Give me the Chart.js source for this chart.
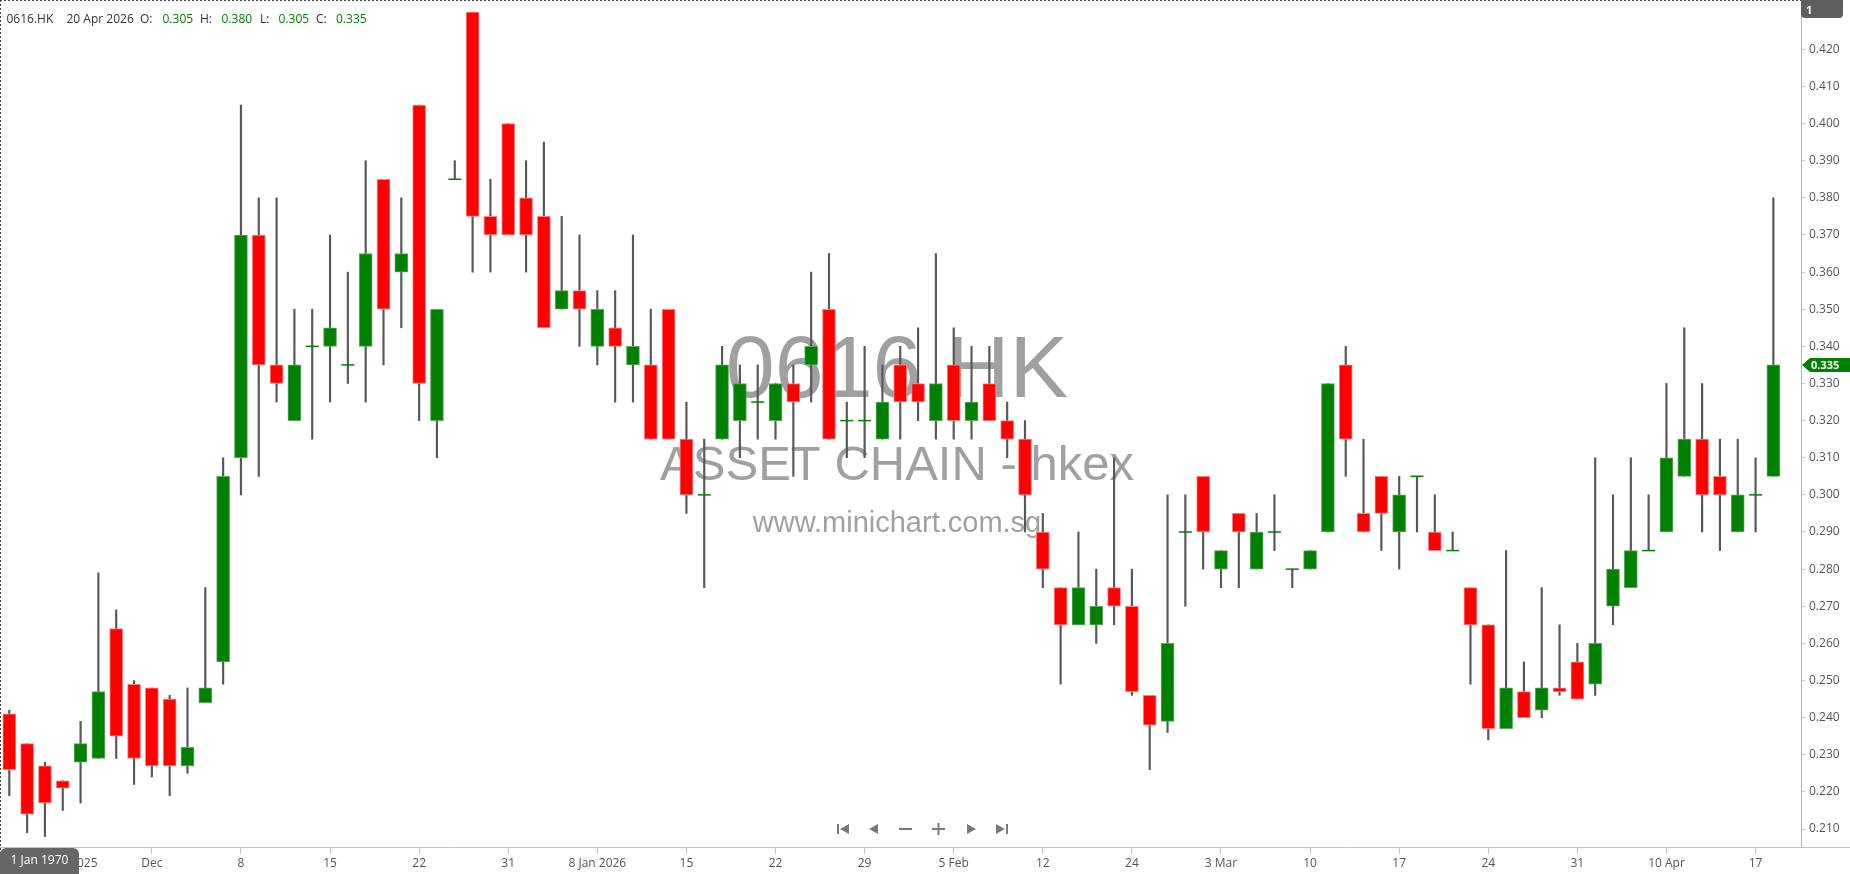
<!DOCTYPE html>
<html>
<head>
<meta charset="utf-8">
<script src="https://cdn.jsdelivr.net/npm/chart.js@4.4.1/dist/chart.umd.min.js"></script>
<style>
html,body{margin:0;padding:0;background:#fff;overflow:hidden}
#wrap{position:relative;width:1850px;height:874px}
</style>
</head>
<body>
<div id="wrap"><canvas id="c" width="1850" height="874"></canvas></div>
<script>
// ---------------- DATA ----------------
const symbol = '0616.HK';
const lastDateText = '20 Apr 2026';
const wmTitle = '0616.HK';
const wmSub = 'ASSET CHAIN - hkex';
const wmUrl = 'www.minichart.com.sg';

const dates = [
'2025-11-19','2025-11-20','2025-11-21','2025-11-24','2025-11-25','2025-11-26','2025-11-27','2025-11-28',
'2025-12-01','2025-12-02','2025-12-03','2025-12-04','2025-12-05',
'2025-12-08','2025-12-09','2025-12-10','2025-12-11','2025-12-12',
'2025-12-15','2025-12-16','2025-12-17','2025-12-18','2025-12-19',
'2025-12-22','2025-12-23','2025-12-24','2025-12-29','2025-12-30',
'2025-12-31','2026-01-02','2026-01-05','2026-01-06','2026-01-07',
'2026-01-08','2026-01-09','2026-01-12','2026-01-13','2026-01-14',
'2026-01-15','2026-01-16','2026-01-19','2026-01-20','2026-01-21',
'2026-01-22','2026-01-23','2026-01-26','2026-01-27','2026-01-28',
'2026-01-29','2026-01-30','2026-02-02','2026-02-03','2026-02-04',
'2026-02-05','2026-02-06','2026-02-09','2026-02-10','2026-02-11',
'2026-02-12','2026-02-13','2026-02-16','2026-02-20','2026-02-23',
'2026-02-24','2026-02-25','2026-02-26','2026-02-27','2026-03-02',
'2026-03-03','2026-03-04','2026-03-05','2026-03-06','2026-03-09',
'2026-03-10','2026-03-11','2026-03-12','2026-03-13','2026-03-16',
'2026-03-17','2026-03-18','2026-03-19','2026-03-20','2026-03-23',
'2026-03-24','2026-03-25','2026-03-26','2026-03-27','2026-03-30',
'2026-03-31','2026-04-01','2026-04-02','2026-04-08','2026-04-09',
'2026-04-10','2026-04-13','2026-04-14','2026-04-15','2026-04-16',
'2026-04-17','2026-04-20'
];

const openP = [
0.241,0.233,0.227,0.223,0.228,0.229,0.264,0.249,0.248,0.245,
0.227,0.244,0.255,0.310,0.370,0.335,0.320,0.340,0.340,0.335,
0.340,0.385,0.360,0.405,0.320,0.385,0.430,0.375,0.400,0.380,
0.375,0.350,0.355,0.340,0.345,0.335,0.335,0.350,0.315,0.300,
0.315,0.320,0.325,0.320,0.330,0.335,0.350,0.320,0.320,0.315,
0.335,0.330,0.320,0.335,0.320,0.330,0.320,0.315,0.290,0.275,
0.265,0.265,0.275,0.270,0.246,0.239,0.290,0.305,0.280,0.295,
0.280,0.290,0.280,0.280,0.290,0.335,0.295,0.305,0.290,0.305,
0.290,0.285,0.275,0.265,0.237,0.247,0.242,0.248,0.255,0.249,
0.270,0.275,0.285,0.290,0.305,0.315,0.305,0.290,0.300,0.305
];
const highP = [
0.242,0.233,0.228,0.223,0.239,0.279,0.269,0.250,0.248,0.246,
0.248,0.275,0.310,0.405,0.380,0.380,0.350,0.350,0.370,0.360,
0.390,0.385,0.380,0.405,0.350,0.390,0.430,0.385,0.400,0.390,
0.395,0.375,0.370,0.355,0.355,0.370,0.350,0.350,0.325,0.315,
0.340,0.335,0.335,0.330,0.335,0.360,0.365,0.325,0.340,0.335,
0.340,0.345,0.365,0.345,0.340,0.340,0.325,0.320,0.295,0.275,
0.290,0.280,0.310,0.280,0.246,0.300,0.300,0.305,0.285,0.295,
0.295,0.300,0.280,0.285,0.330,0.340,0.315,0.305,0.305,0.305,
0.300,0.290,0.275,0.265,0.285,0.255,0.275,0.265,0.260,0.310,
0.300,0.310,0.300,0.330,0.345,0.330,0.315,0.315,0.310,0.380
];
const lowP = [
0.219,0.209,0.208,0.215,0.217,0.229,0.229,0.222,0.224,0.219,
0.225,0.244,0.249,0.300,0.305,0.325,0.320,0.315,0.325,0.330,
0.325,0.335,0.345,0.320,0.310,0.385,0.360,0.360,0.370,0.360,
0.345,0.350,0.340,0.335,0.325,0.325,0.315,0.315,0.295,0.275,
0.315,0.310,0.315,0.315,0.305,0.325,0.315,0.310,0.310,0.315,
0.315,0.320,0.315,0.315,0.315,0.320,0.310,0.290,0.275,0.249,
0.265,0.260,0.265,0.246,0.226,0.236,0.270,0.280,0.275,0.275,
0.280,0.285,0.275,0.280,0.290,0.305,0.290,0.285,0.280,0.290,
0.285,0.285,0.249,0.234,0.237,0.240,0.240,0.246,0.245,0.246,
0.265,0.275,0.285,0.290,0.305,0.290,0.285,0.290,0.290,0.305
];
const closeP = [
0.226,0.214,0.217,0.221,0.233,0.247,0.235,0.229,0.227,0.227,
0.232,0.248,0.305,0.370,0.335,0.330,0.335,0.340,0.345,0.335,
0.365,0.350,0.365,0.330,0.350,0.385,0.375,0.370,0.370,0.370,
0.345,0.355,0.350,0.350,0.340,0.340,0.315,0.315,0.300,0.300,
0.335,0.330,0.325,0.330,0.325,0.340,0.315,0.320,0.320,0.325,
0.325,0.325,0.330,0.320,0.325,0.320,0.315,0.300,0.280,0.265,
0.275,0.270,0.270,0.247,0.238,0.260,0.290,0.290,0.285,0.290,
0.290,0.290,0.280,0.285,0.330,0.315,0.290,0.295,0.300,0.305,
0.285,0.285,0.265,0.237,0.248,0.240,0.248,0.247,0.245,0.260,
0.280,0.285,0.285,0.310,0.315,0.300,0.300,0.300,0.300,0.335
];

const tickDates = ['2025-11-24','2025-12-01','2025-12-08','2025-12-15','2025-12-22','2025-12-31',
'2026-01-08','2026-01-15','2026-01-22','2026-01-29','2026-02-05','2026-02-12','2026-02-24',
'2026-03-03','2026-03-10','2026-03-17','2026-03-24','2026-03-31','2026-04-10','2026-04-17'];
const tickLabels = ['24 Nov 2025','Dec','8','15','22','31','8 Jan 2026','15','22','29','5 Feb','12','24',
'3 Mar','10','17','24','31','10 Apr','17'];
const yTickValues = [0.21,0.22,0.23,0.24,0.25,0.26,0.27,0.28,0.29,0.30,0.31,0.32,0.33,0.34,0.35,0.36,0.37,0.38,0.39,0.40,0.41,0.42];

// ---------------- STYLE ----------------
const GREEN = '#008000', RED = '#ff0000';
const FONT = '"Open Sans", "DejaVu Sans", sans-serif';
const N = dates.length;
const allIdx = dates.map((d, i) => i);
const bodyIdx = allIdx.filter(i => openP[i] !== closeP[i]);
const dojiIdx = allIdx.filter(i => openP[i] === closeP[i]);
const up = i => closeP[i] >= openP[i];
const tickIdx = tickDates.map(d => dates.indexOf(d));

const decor = {
  id: 'decor',
  beforeDatasetsDraw(chart) {
    const ctx = chart.ctx;
    ctx.save();
    ctx.fillStyle = 'rgba(150,150,150,0.9)';
    ctx.textAlign = 'center';
    ctx.textBaseline = 'alphabetic';
    ctx.font = '88px "Liberation Sans", Arial, sans-serif';
    ctx.fillText(wmTitle, 897, 397);
    ctx.font = '49px "Liberation Sans", Arial, sans-serif';
    ctx.fillText(wmSub, 897, 480);
    ctx.font = '29px "Liberation Sans", Arial, sans-serif';
    ctx.fillText(wmUrl, 897, 532);
    ctx.restore();
  },
  afterDraw(chart) {
    const ctx = chart.ctx;
    const ca = chart.chartArea;
    const ys = chart.scales.y;
    ctx.save();
    // dotted frame (top / left)
    ctx.strokeStyle = '#444';
    ctx.lineWidth = 1;
    ctx.setLineDash([2, 2]);
    ctx.beginPath();
    ctx.moveTo(0, 0.5); ctx.lineTo(ca.right, 0.5);
    ctx.moveTo(0.5, 0); ctx.lineTo(0.5, 874);
    ctx.stroke();
    ctx.setLineDash([]);
    // extend bottom axis line under the price scale
    ctx.strokeStyle = '#c4c4c4';
    ctx.beginPath();
    ctx.moveTo(ca.right, ca.bottom + 0.5); ctx.lineTo(1850, ca.bottom + 0.5);
    ctx.stroke();

    // header
    const fmt = v => v.toFixed(3);
    const last = N - 1;
    const hdr = [
      [symbol, 6.5, '#333'], [lastDateText, 66.5, '#333'],
      ['O:', 140, '#333'], [fmt(openP[last]), 162.5, GREEN],
      ['H:', 200, '#333'], [fmt(highP[last]), 221.5, GREEN],
      ['L:', 260, '#333'], [fmt(lowP[last]), 278.5, GREEN],
      ['C:', 316, '#333'], [fmt(closeP[last]), 336, GREEN]
    ];
    ctx.font = '12px ' + FONT;
    ctx.textAlign = 'left';
    ctx.textBaseline = 'alphabetic';
    hdr.forEach(([t, x, c]) => { ctx.fillStyle = c; ctx.fillText(t, x, 22.5); });

    // "1" badge top right
    ctx.fillStyle = '#5e5e5e';
    ctx.beginPath();
    ctx.roundRect(ca.right, 0, 42, 18, [0, 0, 4, 4]);
    ctx.fill();
    ctx.fillStyle = '#fff';
    ctx.font = 'bold 11px ' + FONT;
    ctx.fillText('1', 1806, 13.5);

    // last price marker
    const py = ys.getPixelForValue(closeP[last]);
    ctx.fillStyle = up(last) ? GREEN : RED;
    ctx.beginPath();
    ctx.moveTo(ca.right + 1, py);
    ctx.lineTo(ca.right + 9, py - 7);
    ctx.lineTo(1850, py - 7);
    ctx.lineTo(1850, py + 7);
    ctx.lineTo(ca.right + 9, py + 7);
    ctx.closePath();
    ctx.fill();
    ctx.fillStyle = '#fff';
    ctx.font = 'bold 11px ' + FONT;
    ctx.textBaseline = 'middle';
    ctx.fillText(fmt(closeP[last]), ca.right + 10, py + 0.5);

    // "1 Jan 1970" badge bottom left
    ctx.fillStyle = '#666';
    ctx.beginPath();
    ctx.roundRect(0, 848, 79, 26, [6, 6, 0, 0]);
    ctx.fill();
    ctx.fillStyle = '#fff';
    ctx.font = '12px ' + FONT;
    ctx.textAlign = 'center';
    ctx.fillText('1 Jan 1970', 39.5, 861);

    // navigation icons
    ctx.fillStyle = '#7a7a7a';
    const cy = 829;
    ctx.fillRect(837, cy - 5, 2, 10);
    ctx.beginPath(); ctx.moveTo(840, cy); ctx.lineTo(849, cy - 5); ctx.lineTo(849, cy + 5); ctx.closePath(); ctx.fill();
    ctx.beginPath(); ctx.moveTo(869, cy); ctx.lineTo(878, cy - 5); ctx.lineTo(878, cy + 5); ctx.closePath(); ctx.fill();
    ctx.fillRect(899, cy - 1, 13, 2);
    ctx.fillRect(932, cy - 1, 13, 2);
    ctx.fillRect(937.5, cy - 6, 2, 12);
    ctx.beginPath(); ctx.moveTo(976, cy); ctx.lineTo(967, cy - 5); ctx.lineTo(967, cy + 5); ctx.closePath(); ctx.fill();
    ctx.beginPath(); ctx.moveTo(1005, cy); ctx.lineTo(996, cy - 5); ctx.lineTo(996, cy + 5); ctx.closePath(); ctx.fill();
    ctx.fillRect(1006, cy - 5, 2, 10);
    ctx.restore();
  }
};

new Chart(document.getElementById('c'), {
  type: 'bar',
  data: {
    datasets: [
      {
        type: 'line',
        label: 'doji',
        data: dojiIdx.map(i => ({ x: i, y: closeP[i] })),
        showLine: false,
        pointStyle: 'line',
        pointRadius: 6.5,
        pointBorderColor: GREEN,
        pointBorderWidth: 1.5,
        order: 0
      },
      {
        type: 'bar',
        label: 'body',
        data: bodyIdx.map(i => ({ x: i, y: [openP[i], closeP[i]] })),
        backgroundColor: bodyIdx.map(i => up(i) ? GREEN : RED),
        borderColor: bodyIdx.map(i => up(i) ? '#5aa85a' : '#ff8080'),
        borderWidth: 1,
        borderSkipped: false,
        barThickness: 13,
        grouped: false,
        order: 1
      },
      {
        type: 'bar',
        label: 'wick',
        data: allIdx.map(i => ({ x: i, y: [lowP[i], highP[i]] })),
        backgroundColor: '#575757',
        borderWidth: 0,
        barThickness: 1.5,
        grouped: false,
        order: 2
      }
    ]
  },
  options: {
    responsive: false,
    animation: false,
    devicePixelRatio: 1,
    events: [],
    layout: { padding: 0, autoPadding: false },
    plugins: { legend: { display: false }, tooltip: { enabled: false } },
    scales: {
      x: {
        type: 'linear',
        min: -0.522,
        max: 100.55,
        offset: false,
        grid: { display: true, drawOnChartArea: false, drawTicks: true, tickLength: 7, color: '#c4c4c4', offset: false },
        border: { display: true, color: '#c4c4c4' },
        afterBuildTicks: s => { s.ticks = tickIdx.map(v => ({ value: v })); },
        afterFit: s => { s.height = 27; s.paddingLeft = 0; s.paddingRight = 0; },
        ticks: {
          autoSkip: false,
          maxRotation: 0,
          padding: 2,
          color: '#555',
          font: { family: FONT, size: 12 },
          callback: v => { const k = tickIdx.indexOf(Math.round(v)); return k >= 0 ? tickLabels[k] : ''; }
        }
      },
      y: {
        type: 'linear',
        position: 'right',
        min: 0.20516,
        max: 0.43328,
        beginAtZero: false,
        grid: { display: true, drawOnChartArea: false, drawTicks: true, tickLength: 4, color: '#c4c4c4' },
        border: { display: true, color: '#b4b4b4' },
        afterBuildTicks: s => { s.ticks = yTickValues.map(v => ({ value: v })); },
        afterFit: s => { s.width = 49; s.paddingTop = 0; s.paddingBottom = 0; },
        ticks: {
          padding: 4,
          color: '#555',
          font: { family: FONT, size: 12 },
          callback: v => Number(v).toFixed(3)
        }
      }
    }
  },
  plugins: [decor]
});
</script>
</body>
</html>
